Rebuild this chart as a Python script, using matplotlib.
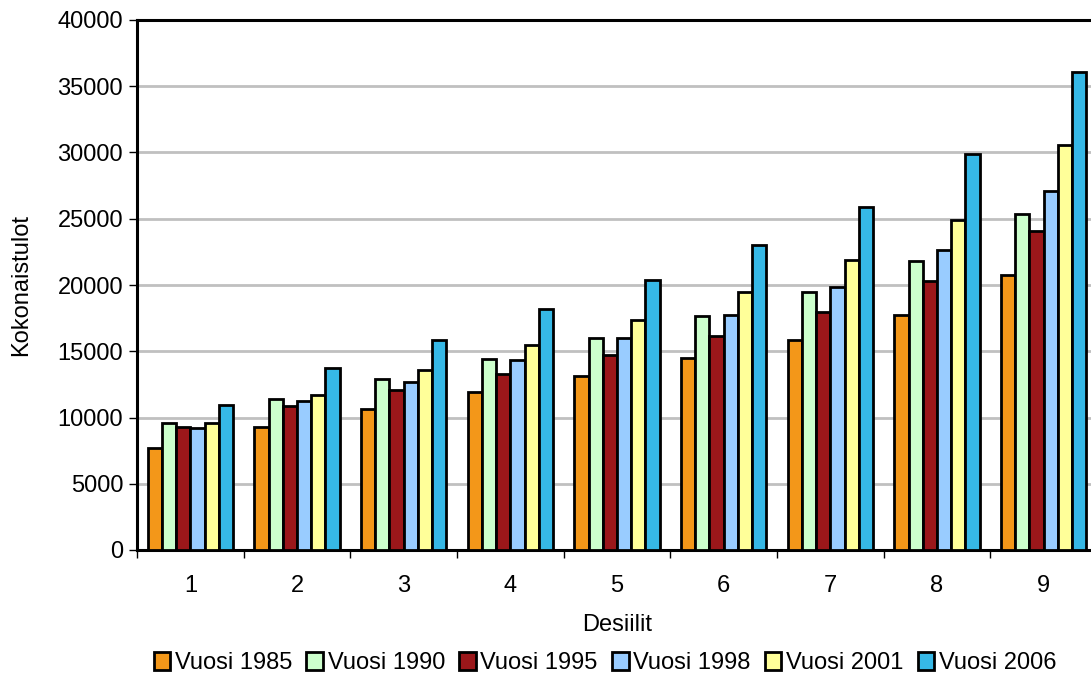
import numpy as np
import matplotlib
matplotlib.use('Agg')
import matplotlib.pyplot as plt
from matplotlib.ticker import MultipleLocator

plt.rcParams['font.family'] = ['Liberation Sans', 'DejaVu Sans']

# Deciles and total income per year
deciles = ['1', '2', '3', '4', '5', '6', '7', '8', '9']
years = ['Vuosi 1985', 'Vuosi 1990', 'Vuosi 1995', 'Vuosi 1998', 'Vuosi 2001', 'Vuosi 2006']

v1985 = [7730, 9270, 10630, 11910, 13120, 14500, 15870, 17740, 20780]
v1990 = [9550, 11360, 12920, 14430, 16020, 17680, 19470, 21820, 25340]
v1995 = [9290, 10860, 12040, 13300, 14690, 16150, 17930, 20280, 24050]
v1998 = [9170, 11240, 12670, 14330, 16020, 17700, 19830, 22650, 27070]
v2001 = [9550, 11720, 13600, 15440, 17380, 19440, 21870, 24940, 30560]
v2006 = [10980, 13710, 15870, 18210, 20400, 23000, 25870, 29920, 36090]

series = [v1985, v1990, v1995, v1998, v2001, v2006]
colors = ['#F39719', '#CCFFCC', '#9B171A', '#99CCFF', '#FFFF99', '#36B8E6']

fig = plt.figure(figsize=(10.91, 6.73), dpi=100)
ax = fig.add_axes([137 / 1091, 1 - 550 / 673, 960 / 1091, 530 / 673])

x = np.arange(1, len(deciles) + 1)
w = 0.8 / len(series)
for j, (vals, c, lab) in enumerate(zip(series, colors, years)):
    ax.bar(x + (j - 2.5) * w, vals, width=w, color=c, edgecolor='black',
           linewidth=2, label=lab, zorder=3)

ax.set_xlim(0.5, 9.5)
ax.set_ylim(0, 40000)
ax.yaxis.set_major_locator(MultipleLocator(5000))
ax.set_xticks(x)
ax.set_xticklabels(deciles)
ax.set_xticks(np.arange(0.5, 10, 1), minor=True)
ax.tick_params(axis='x', which='major', length=0, labelsize=17, pad=18)
ax.tick_params(axis='x', which='minor', length=6, width=1, direction='out')
ax.tick_params(axis='y', length=6, width=1, direction='out', labelsize=17, pad=4)

for yv in range(5000, 40000, 5000):
    ax.axhline(yv, color='#C0C0C0', linewidth=2, zorder=1)

for s in ['top', 'left', 'bottom']:
    ax.spines[s].set_linewidth(2.2)
ax.spines['right'].set_visible(False)

ax.set_xlabel('Desiilit', fontsize=17, labelpad=12)
ax.set_ylabel('Kokonaistulot', fontsize=17, labelpad=18)

fig.legend(loc='lower center', bbox_to_anchor=(605 / 1091, -0.033), ncol=6,
           frameon=False, fontsize=17, handlelength=0.7, handleheight=0.8,
           handletextpad=0.2, columnspacing=0.6)

fig.savefig('out.png', dpi=100)
